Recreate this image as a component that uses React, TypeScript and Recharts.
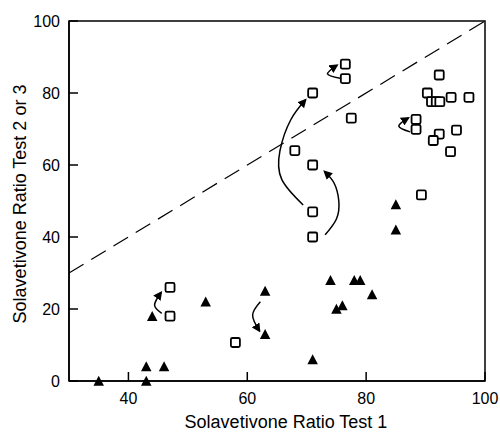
import React from "react";
import {
  ScatterChart,
  Scatter,
  XAxis,
  YAxis,
  ReferenceLine,
  ReferenceArea,
} from "recharts";

// Open squares
const squareX = [76.5, 76.5, 71, 77.5, 68, 71, 71, 71, 92.3, 90.3, 91.0, 91.8, 92.4, 94.3, 97.3, 88.4, 88.4, 92.3, 91.3, 95.2, 94.2, 89.3, 47, 47, 58];
const squareY = [88, 84, 80, 73, 64, 60, 47, 40, 85, 80, 77.6, 77.6, 77.6, 78.8, 78.8, 72.7, 69.9, 68.6, 66.8, 69.7, 63.7, 51.7, 26, 18, 10.7];

// Filled triangles
const triX = [35, 43, 43, 46, 44, 53, 63, 63, 85, 85, 74, 78, 79, 81, 76, 75, 71];
const triY = [0, 4, 0, 4, 18, 22, 25, 13, 49, 42, 28, 28, 28, 24, 21, 20, 6];

// Curved arrows (control points along each arrow, tail to head)
const arrowA = [[69.4, 48.9], [65.8, 56], [65.5, 64], [67.3, 72.5], [69.8, 78.1]];
const arrowB = [[73.1, 40.6], [75.0, 45], [75.4, 50], [74.6, 55], [73.0, 58.2]];
const arrowC = [[75.6, 84.1], [73.5, 85.3], [75.1, 87.7]];
const arrowD = [[87.4, 69.2], [85.5, 70.8], [87.1, 73.1]];
const arrowE = [[45.6, 18.8], [44.4, 21.1], [45.5, 24.6]];
const arrowF = [[62.2, 22.0], [60.9, 18.3], [62.05, 13.9]];

const xTicks = [40, 60, 80, 100];
const yTicks = [0, 20, 40, 60, 80, 100];

const xTitle = "Solavetivone Ratio Test 1";
const yTitle = "Solavetivone Ratio Test 2 or 3";

const squares = squareX.map((x, i) => ({ x, y: squareY[i] }));
const triangles = triX.map((x, i) => ({ x, y: triY[i] }));
const arrows = [arrowA, arrowB, arrowC, arrowD, arrowE, arrowF].map((a) =>
  a.map(([x, y]) => ({ x, y }))
);

const FONT = "'Liberation Sans', Arial, Helvetica, sans-serif";

const SquareShape = (props: any) => {
  const { cx, cy } = props;
  const s = 9;
  return (
    <rect
      x={cx - s / 2}
      y={cy - s / 2}
      width={s}
      height={s}
      rx={1.5}
      fill="#fff"
      stroke="#000"
      strokeWidth={1.8}
    />
  );
};

const TriShape = (props: any) => {
  const { cx, cy } = props;
  const w = 10.5;
  const h = 9.5;
  return (
    <polygon
      points={`${cx},${cy - h / 2 - 0.5} ${cx - w / 2},${cy + h / 2} ${cx + w / 2},${cy + h / 2}`}
      fill="#000"
    />
  );
};

const NoShape = () => <g />;

const XTick = (props: any) => {
  const { x, y, payload } = props;
  return (
    <g>
      <line x1={x} x2={x} y1={y} y2={y - 9} stroke="#000" strokeWidth={1.5} />
      <text x={x} y={y + 23} textAnchor="middle" fontSize={16} fontFamily={FONT} fill="#000">
        {payload.value}
      </text>
    </g>
  );
};

const YTick = (props: any) => {
  const { x, y, payload } = props;
  return (
    <g>
      <line x1={x} x2={x + 9} y1={y} y2={y} stroke="#000" strokeWidth={1.5} />
      <text x={x - 9} y={y + 6} textAnchor="end" fontSize={16} fontFamily={FONT} fill="#000">
        {payload.value}
      </text>
    </g>
  );
};

export default function App() {
  return (
    <div style={{ position: "absolute", left: 0, top: 0, width: 500, height: 433, background: "#fff" }}>
      <svg width={0} height={0} style={{ position: "absolute" }}>
        <defs>
          <marker
            id="ah"
            viewBox="0 0 10 10"
            refX={8}
            refY={5}
            markerWidth={9}
            markerHeight={9}
            markerUnits="userSpaceOnUse"
            orient="auto"
          >
            <path d="M0,0 L10,5 L0,10 z" fill="#000" />
          </marker>
        </defs>
      </svg>
      <ScatterChart width={500} height={433} margin={{ top: 21, right: 15, left: 0, bottom: 0 }}>
        <XAxis
          type="number"
          dataKey="x"
          domain={[30, 100]}
          ticks={xTicks}
          interval={0}
          height={52}
          tickSize={0}
          tickMargin={0}
          tick={<XTick />}
          axisLine={{ stroke: "#000", strokeWidth: 1.5 }}
          label={(p: any) => {
            const vb = p.viewBox || {};
            return (
              <text
                x={vb.x + vb.width / 2 + 9}
                y={428}
                textAnchor="middle"
                fontSize={18}
                fontFamily={FONT}
                fill="#000"
              >
                {xTitle}
              </text>
            );
          }}
        />
        <YAxis
          type="number"
          dataKey="y"
          domain={[0, 100]}
          ticks={yTicks}
          interval={0}
          width={69}
          tickSize={0}
          tickMargin={0}
          tick={<YTick />}
          axisLine={{ stroke: "#000", strokeWidth: 1.5 }}
          label={(p: any) => {
            const vb = p.viewBox || {};
            const cy = vb.y + vb.height / 2 + 3;
            return (
              <text
                x={26}
                y={cy}
                transform={`rotate(-90, 26, ${cy})`}
                textAnchor="middle"
                fontSize={18}
                fontFamily={FONT}
                fill="#000"
              >
                {yTitle}
              </text>
            );
          }}
        />
        <ReferenceArea x1={30} x2={100} y1={0} y2={100} fill="none" stroke="#000" strokeWidth={1.5} />
        <ReferenceLine
          segment={[
            { x: 30, y: 30 },
            { x: 100, y: 100 },
          ]}
          stroke="#000"
          strokeWidth={1.2}
          strokeDasharray="17 9"
        />
        {arrows.map((a, i) => (
          <Scatter
            key={`arrow${i}`}
            data={a}
            fill="#000"
            line={{ stroke: "#000", strokeWidth: 1.5, markerEnd: "url(#ah)" } as any}
            lineType="joint"
            lineJointType="natural"
            shape={NoShape}
            isAnimationActive={false}
          />
        ))}
        <Scatter data={triangles} shape={TriShape} isAnimationActive={false} />
        <Scatter data={squares} shape={SquareShape} isAnimationActive={false} />
      </ScatterChart>
    </div>
  );
}
